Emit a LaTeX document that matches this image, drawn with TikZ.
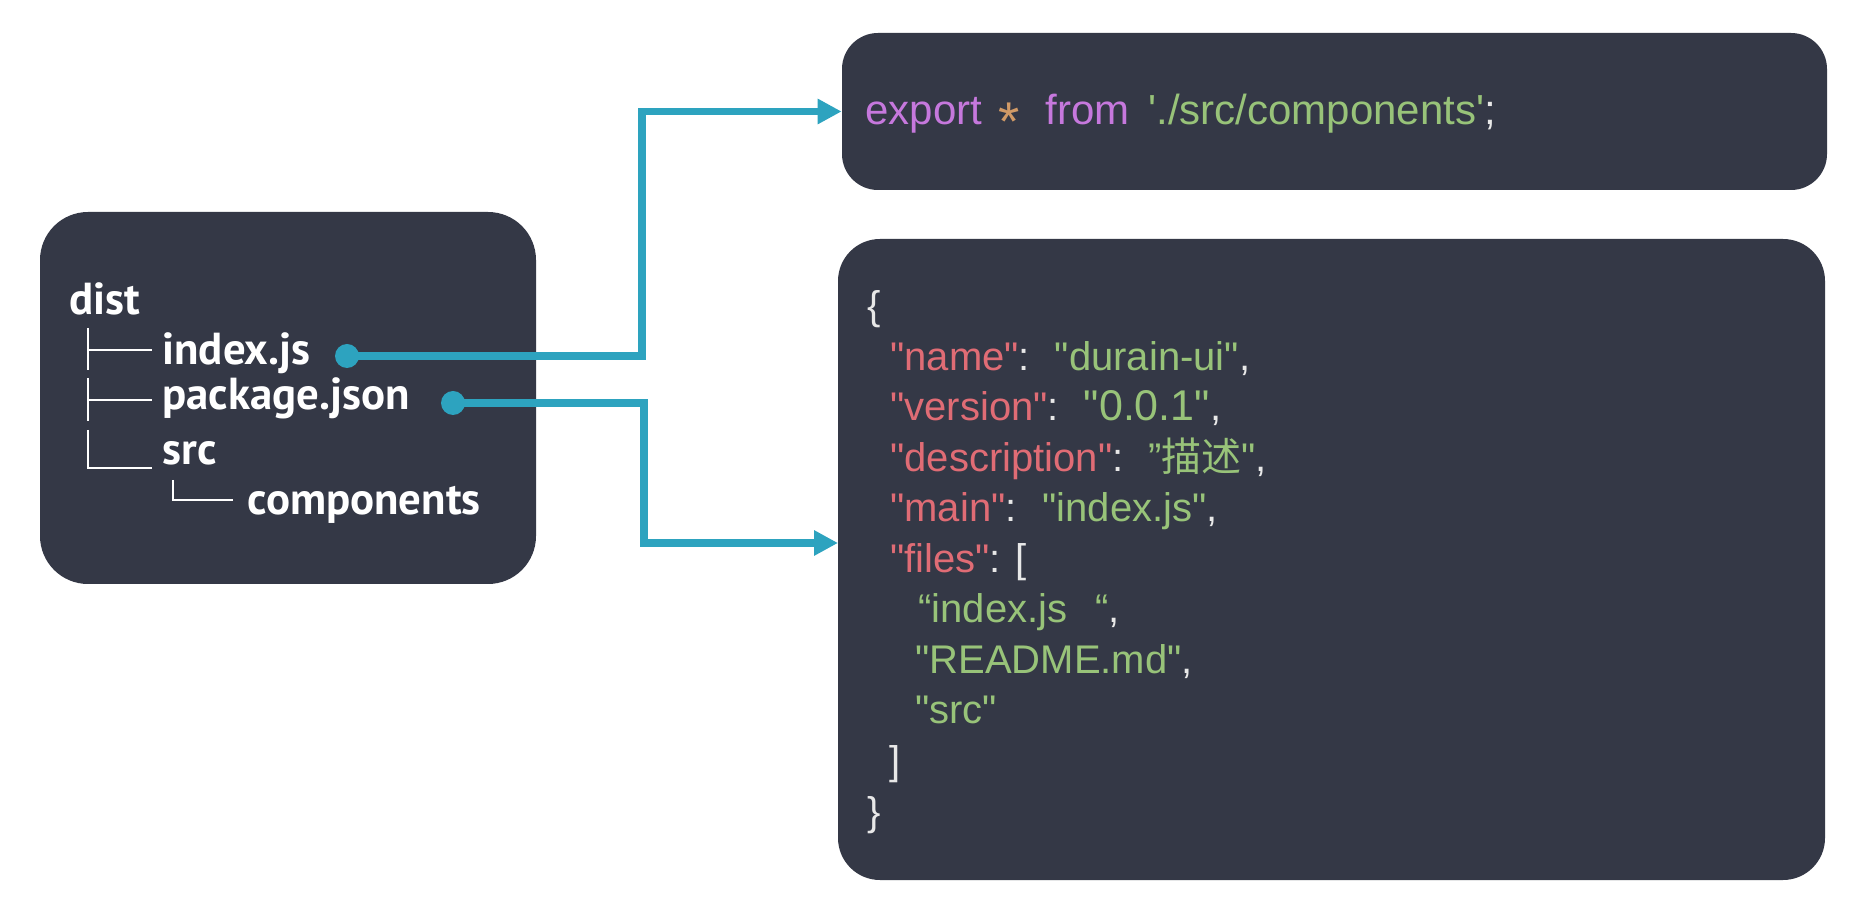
\documentclass[tikz,border=0pt]{standalone}
\usepackage{fontspec}
\setmainfont{Liberation Sans}
\newfontfamily\treefont{PT Sans}
\newfontfamily\cjkfont{Noto Sans CJK SC}
\usetikzlibrary{arrows.meta,calc}
\definecolor{boxbg}{HTML}{343846}
\definecolor{link}{HTML}{2DA3BF}
\definecolor{jkey}{HTML}{E06C75}
\definecolor{jstr}{HTML}{98C379}
\definecolor{jkw}{HTML}{C678DD}
\definecolor{jstar}{HTML}{D19A66}
\definecolor{punc}{HTML}{E8E8E8}
\newcommand\dq{\XeTeXglyph\XeTeXcharglyph"22\relax}
\newcommand\sq{\XeTeXglyph\XeTeXcharglyph"27\relax}
\newcommand\jk[1]{\textcolor{jkey}{#1}}
\newcommand\jv[1]{\textcolor{jstr}{#1}}
\newcommand\jw[1]{\textcolor{jkw}{#1}}
\begin{document}
\begin{tikzpicture}[x=0.5pt,y=-0.5pt,
  panel/.style={fill=boxbg, draw=none, inner sep=0, rectangle},
  treetext/.style={font=\treefont\bfseries\fontsize{22.4}{26}\selectfont, text=white, anchor=base west, inner sep=0},
  codetext/.style={font=\fontsize{20}{24}\selectfont, anchor=base west, inner sep=0, text=punc},
  treeline/.style={draw=white, line width=1pt},
  conn/.style={draw=link, line width=3.75pt, -{Triangle[length=12pt,width=12pt]}},
  dot/.style={circle, fill=link, minimum size=12pt, inner sep=0}]
\useasboundingbox[fill=white] (0,0) rectangle (1864,908);

% panels
\node[panel, rounded corners=24pt, minimum width=248pt, minimum height=186pt] (tree) at (288,398) {};
\node[panel, rounded corners=18pt, minimum width=492.5pt, minimum height=78.5pt] (top) at (1334.5,111.5) {};
\node[panel, rounded corners=21pt, minimum width=493.5pt, minimum height=320.5pt] (json) at (1331.5,559.5) {};

% tree text
\node[treetext] (dist) at (69,315) {dist};
\node[treetext] (idx) at (162,365) {index.js};
\node[treetext] (pkg) at (162,410) {package.json};
\node[treetext] (src) at (162,465) {src};
\node[treetext] (comp) at (247,515) {components};

% tree guide lines
\draw[treeline] (88,328) -- (88,370) (88,350) -- (152,350);
\draw[treeline] (88,378) -- (88,421) (88,400) -- (152,400);
\draw[treeline] (88,430) -- (88,468) -- (152,468);
\draw[treeline] (173,480) -- (173,500) -- (233,500);

% top code
\node[codetext, font=\fontsize{21}{25}\selectfont] (exp) at (865,125) {\jw{export}\hspace{8pt}\textcolor{jstar}{\raisebox{-0.36em}{\scalebox{1.3}{*}}}\hspace{13pt}\jw{from}\hspace{9.5pt}\jv{\sq./src/components\sq};};

% json code
\node[codetext] (l0) at (867,320) {\{};
\node[codetext] (l1) at (890,370.5) {\jk{\dq name\dq}:\hspace{12.5pt}\jv{\dq durain-ui\dq},};
\node[codetext] (l2) at (890,421) {\jk{\dq version\dq}:\hspace{12.5pt}\jv{\fontsize{21.5}{24}\selectfont\dq 0.0.1\dq},};
\node[codetext] (l3) at (890,471.5) {\jk{\dq description\dq}:\hspace{12.5pt}\jv{”{\cjkfont 描述}\dq},};
\node[codetext] (l4) at (890,522) {\jk{\dq main\dq}:\hspace{13pt}\jv{\dq index.js\dq},};
\node[codetext] (l5) at (890,572.5) {\jk{\dq files\dq}: [};
\node[codetext] (l6) at (918,623) {\jv{“index.js\hspace{14pt}“},};
\node[codetext] (l7) at (915,673.5) {\jv{\dq README.md\dq},};
\node[codetext] (l8) at (915,724) {\jv{\dq src\dq}};
\node[codetext] (l9) at (889,774.5) {]};
\node[codetext] (l10) at (867,825) {\}};

% connectors
\node[dot] (d1) at (347,356) {};
\node[dot] (d2) at (453,403) {};
\coordinate (v1) at (642,0);
\coordinate (v2) at (644,0);
\coordinate (t2) at (838,543);
\draw[conn] (d1.center) -| (v1 |- top.west) -- (top.west);
\draw[conn] (d2.center) -| (v2 |- t2) -- (t2);
\end{tikzpicture}
\end{document}
